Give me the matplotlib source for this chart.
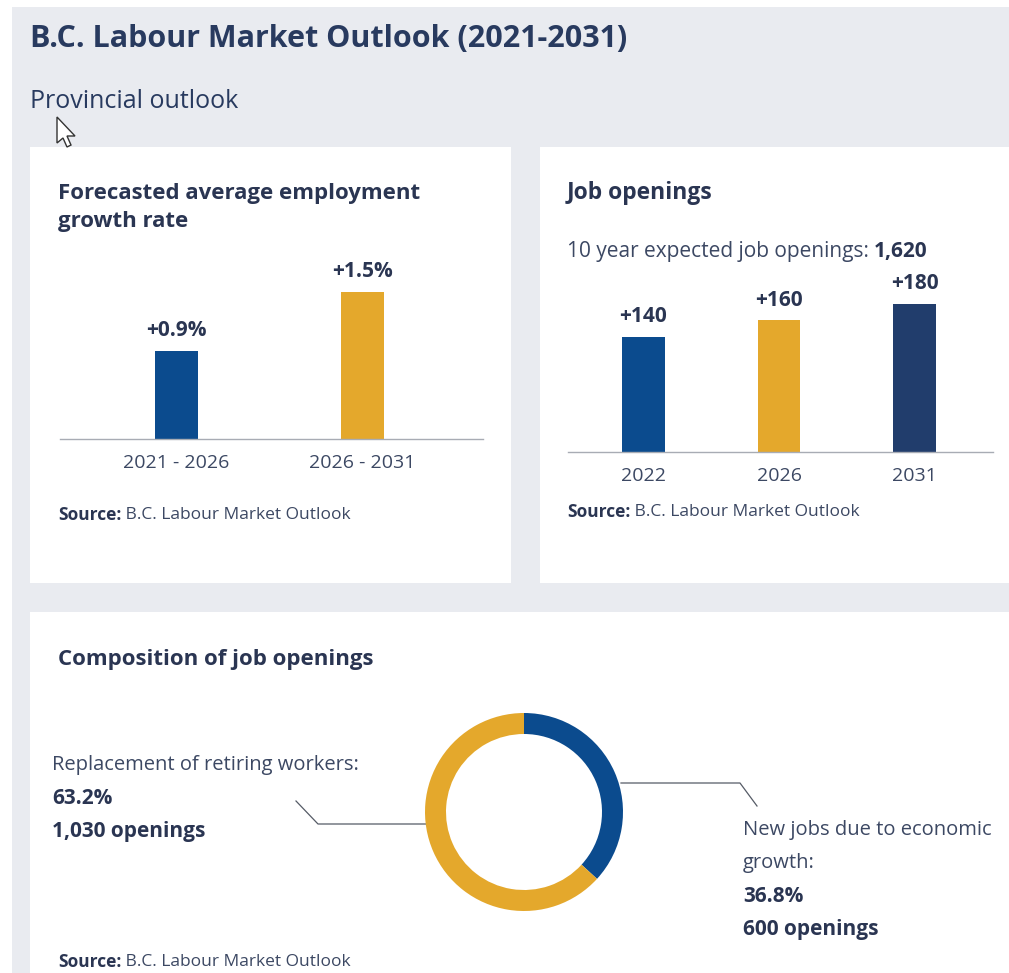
import matplotlib.pyplot as plt
from matplotlib.patches import Rectangle, Polygon
from matplotlib.lines import Line2D

W, H = 1009, 973
plt.rcParams['font.family'] = ['Open Sans', 'DejaVu Sans']

# data
growth_periods = ['2021 - 2026', '2026 - 2031']
growth_rates = [0.9, 1.5]
growth_labels = ['+0.9%', '+1.5%']

opening_years = ['2022', '2026', '2031']
openings = [140, 160, 180]
opening_labels = ['+140', '+160', '+180']
total_openings = '1,620'

comp_names = ['New jobs due to economic growth', 'Replacement of retiring workers']
comp_share = [36.8, 63.2]
comp_counts = ['600', '1,030']

# colours
BG = '#e9ebf0'
BLUE = '#0b4b8e'
GOLD = '#e4a82c'
NAVY = '#213d6c'
TITLE = '#283a5f'
DARK = '#2a3552'
BODY = '#3c4863'
AXIS = '#a8acb4'


def frac(x0, y0, x1, y1):
    # pixel box (top-left origin) -> figure fraction rect
    return [x0 / W, 1 - y1 / H, (x1 - x0) / W, (y1 - y0) / H]


fig = plt.figure(figsize=(W / 100, H / 100), dpi=100)
fig.patch.set_facecolor('white')

# background axes in pixel coordinates
bg = fig.add_axes([0, 0, 1, 1])
bg.set_xlim(0, W)
bg.set_ylim(H, 0)
bg.axis('off')
bg.set_zorder(-1)
bg.add_patch(Rectangle((12, 7), W, H, color=BG, lw=0))
for x0, y0, x1, y1 in [(30, 147, 511, 583), (540, 147, W, 583), (30, 612, W, H)]:
    bg.add_patch(Rectangle((x0, y0), x1 - x0, y1 - y0, color='white', lw=0))

bg.text(30, 39, 'B.C. Labour Market Outlook (2021-2031)', fontsize=22,
        fontweight='bold', color=TITLE, va='center')
bg.text(30, 101, 'Provincial outlook', fontsize=18, color=TITLE, va='center')

# mouse pointer from the screenshot
cur = [(57, 117), (57, 143), (63, 138), (67, 147), (71, 145), (67, 136), (75, 136)]
bg.add_patch(Polygon(cur, closed=True, fc='white', ec='#333333', lw=1))


def source(x, y):
    t = bg.text(x, y, 'Source:', fontsize=12.5, fontweight='bold', color=DARK, va='center')
    bg.annotate(' B.C. Labour Market Outlook', xy=(1, 0.5), xycoords=t, fontsize=12.5,
                color=BODY, va='center')


# panel 1: growth rate
bg.text(58, 193, 'Forecasted average employment', fontsize=16, fontweight='bold',
        color=DARK, va='center')
bg.text(58, 222, 'growth rate', fontsize=16, fontweight='bold', color=DARK, va='center')
source(58, 515)

ax1 = fig.add_axes(frac(60, 250, 483, 439))
ax1.patch.set_alpha(0)
ax1.bar(range(len(growth_rates)), growth_rates, width=0.231, color=[BLUE, GOLD])
ax1.set_xlim(-0.626, 1.648)
ax1.set_ylim(0, 1.93)
for i, (v, lab) in enumerate(zip(growth_rates, growth_labels)):
    ax1.annotate(lab, (i, v), xytext=(0, 7), textcoords='offset points', ha='center',
                 va='bottom', fontsize=15, fontweight='bold', color=DARK)

# panel 2: job openings
bg.text(567, 193, 'Job openings', fontsize=16.5, fontweight='bold', color=DARK, va='center')
t = bg.text(567, 252, '10 year expected job openings: ', fontsize=15, color=BODY, va='center')
bg.annotate(total_openings, xy=(1, 0.5), xycoords=t, fontsize=15, fontweight='bold',
            color=DARK, va='center')
source(567, 512)

ax2 = fig.add_axes(frac(568, 260, 993, 452))
ax2.patch.set_alpha(0)
ax2.bar(range(len(openings)), openings, width=0.317, color=[BLUE, GOLD, NAVY])
ax2.set_xlim(-0.557, 2.579)
ax2.set_ylim(0, 233.5)
for i, (v, lab) in enumerate(zip(openings, opening_labels)):
    ax2.annotate(lab, (i, v), xytext=(0, 7), textcoords='offset points', ha='center',
                 va='bottom', fontsize=15, fontweight='bold', color=DARK)

for ax, labels in [(ax1, growth_periods), (ax2, opening_years)]:
    ax.set_xticks(range(len(labels)))
    ax.set_xticklabels(labels)
    ax.set_yticks([])
    ax.tick_params(axis='x', length=0, pad=10.5, labelsize=14, labelcolor=BODY)
    for s in ['top', 'right', 'left']:
        ax.spines[s].set_visible(False)
    ax.spines['bottom'].set_color(AXIS)
    ax.spines['bottom'].set_linewidth(1)

# panel 3: composition donut
bg.text(58, 660, 'Composition of job openings', fontsize=16, fontweight='bold',
        color=DARK, va='center')
source(58, 962)

ax3 = fig.add_axes(frac(414, 702, 634, 922))
ax3.pie(comp_share, colors=[BLUE, GOLD], startangle=90, counterclock=False,
        radius=0.99, wedgeprops=dict(width=0.21, linewidth=0))
ax3.set_xlim(-1.1, 1.1)
ax3.set_ylim(-1.1, 1.1)
ax3.set_aspect('equal')

# leader lines
bg.add_line(Line2D([621, 740, 757], [783, 783, 806], color='#555b66', lw=0.9))
bg.add_line(Line2D([426, 318, 296], [824, 824, 801], color='#555b66', lw=0.9))

bg.text(52, 765, 'Replacement of retiring workers:', fontsize=14.5, color=BODY, va='center')
bg.text(52, 798, f'{comp_share[1]}%', fontsize=15, fontweight='bold', color=DARK, va='center')
bg.text(52, 832, f'{comp_counts[1]} openings', fontsize=15, fontweight='bold', color=DARK,
        va='center')

bg.text(743, 830, 'New jobs due to economic', fontsize=14.5, color=BODY, va='center')
bg.text(743, 863, 'growth:', fontsize=14.5, color=BODY, va='center')
bg.text(743, 897, f'{comp_share[0]}%', fontsize=15, fontweight='bold', color=DARK, va='center')
bg.text(743, 930, f'{comp_counts[0]} openings', fontsize=15, fontweight='bold', color=DARK,
        va='center')

fig.savefig('out.png', dpi=100)
